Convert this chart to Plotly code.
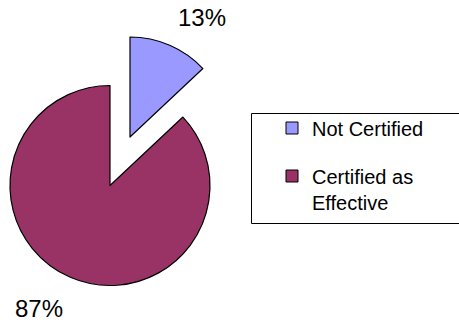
import plotly.graph_objects as go

# Audit outcome shares
categories = ["Not Certified", "Certified as Effective"]
legend_names = ["Not Certified", "Certified as<br>Effective"]
values = [13, 87]
colors = ["#9999FF", "#993366"]

W, H = 459, 322
FONT = "Arial, Liberation Sans, sans-serif"
CLEAR = "rgba(0,0,0,0)"

# pie geometry in pixels: main body and the exploded "Not Certified" wedge
MAIN_CENTER = (110, 185.5)
PULLED_CENTER = (130, 137)
RADIUS = 100

# percentage label centres (pixels)
LABEL_POS = [(201.5, 17.5), (38.5, 308)]


def px_x(x):
    return x / W


def px_y(y):
    return 1 - y / H


def domain_for(center):
    cx, cy = center
    return dict(
        x=[px_x(cx - RADIUS), px_x(cx + RADIUS)],
        y=[px_y(cy + RADIUS), px_y(cy - RADIUS)],
    )


def slice_only(idx):
    """Fill/outline lists that show a single slice of the pie."""
    fills = [c if i == idx else CLEAR for i, c in enumerate(colors)]
    lines = ["black" if i == idx else CLEAR for i in range(len(colors))]
    return fills, lines


fig = go.Figure()

# main body: only the "Certified as Effective" slice is painted
fills, lines = slice_only(1)
fig.add_trace(go.Pie(
    labels=categories, values=values, sort=False, direction="clockwise",
    rotation=0, marker=dict(colors=fills, line=dict(color=lines, width=1.2)),
    textinfo="none", hoverinfo="label+percent", showlegend=False,
    domain=domain_for(MAIN_CENTER),
))

# exploded wedge: only the "Not Certified" slice is painted
fills, lines = slice_only(0)
fig.add_trace(go.Pie(
    labels=categories, values=values, sort=False, direction="clockwise",
    rotation=0, marker=dict(colors=fills, line=dict(color=lines, width=1.2)),
    textinfo="none", hoverinfo="label+percent", showlegend=False,
    domain=domain_for(PULLED_CENTER),
))

# legend entries
for i, (name, col) in enumerate(zip(legend_names, colors)):
    fig.add_trace(go.Scatter(
        x=[None], y=[None], mode="markers", name=name,
        legendgroup=f"g{i}",
        marker=dict(symbol="square", size=12, color=col,
                    line=dict(color="black", width=1)),
    ))

total = sum(values)
annotations = []
for v, (lx, ly) in zip(values, LABEL_POS):
    annotations.append(dict(
        x=px_x(lx), y=px_y(ly), xref="paper", yref="paper",
        text=f"{round(v / total * 100)}%", showarrow=False,
        xanchor="center", yanchor="middle",
        font=dict(family=FONT, size=24, color="black"),
    ))

fig.update_layout(
    width=W, height=H,
    margin=dict(l=0, r=0, t=0, b=0),
    paper_bgcolor="white", plot_bgcolor="white",
    xaxis=dict(visible=False), yaxis=dict(visible=False),
    font=dict(family=FONT, color="black"),
    annotations=annotations,
    shapes=[dict(
        type="rect", xref="paper", yref="paper",
        x0=px_x(251.5), x1=px_x(475), y0=px_y(223.5), y1=px_y(113.5),
        line=dict(color="black", width=1), fillcolor=CLEAR,
    )],
    legend=dict(
        x=px_x(272), y=px_y(108.5), xanchor="left", yanchor="top",
        bgcolor=CLEAR, borderwidth=0, traceorder="grouped",
        tracegroupgap=19, valign="top",
        font=dict(family=FONT, size=20, color="black"),
    ),
)

fig.write_html("out.html")
